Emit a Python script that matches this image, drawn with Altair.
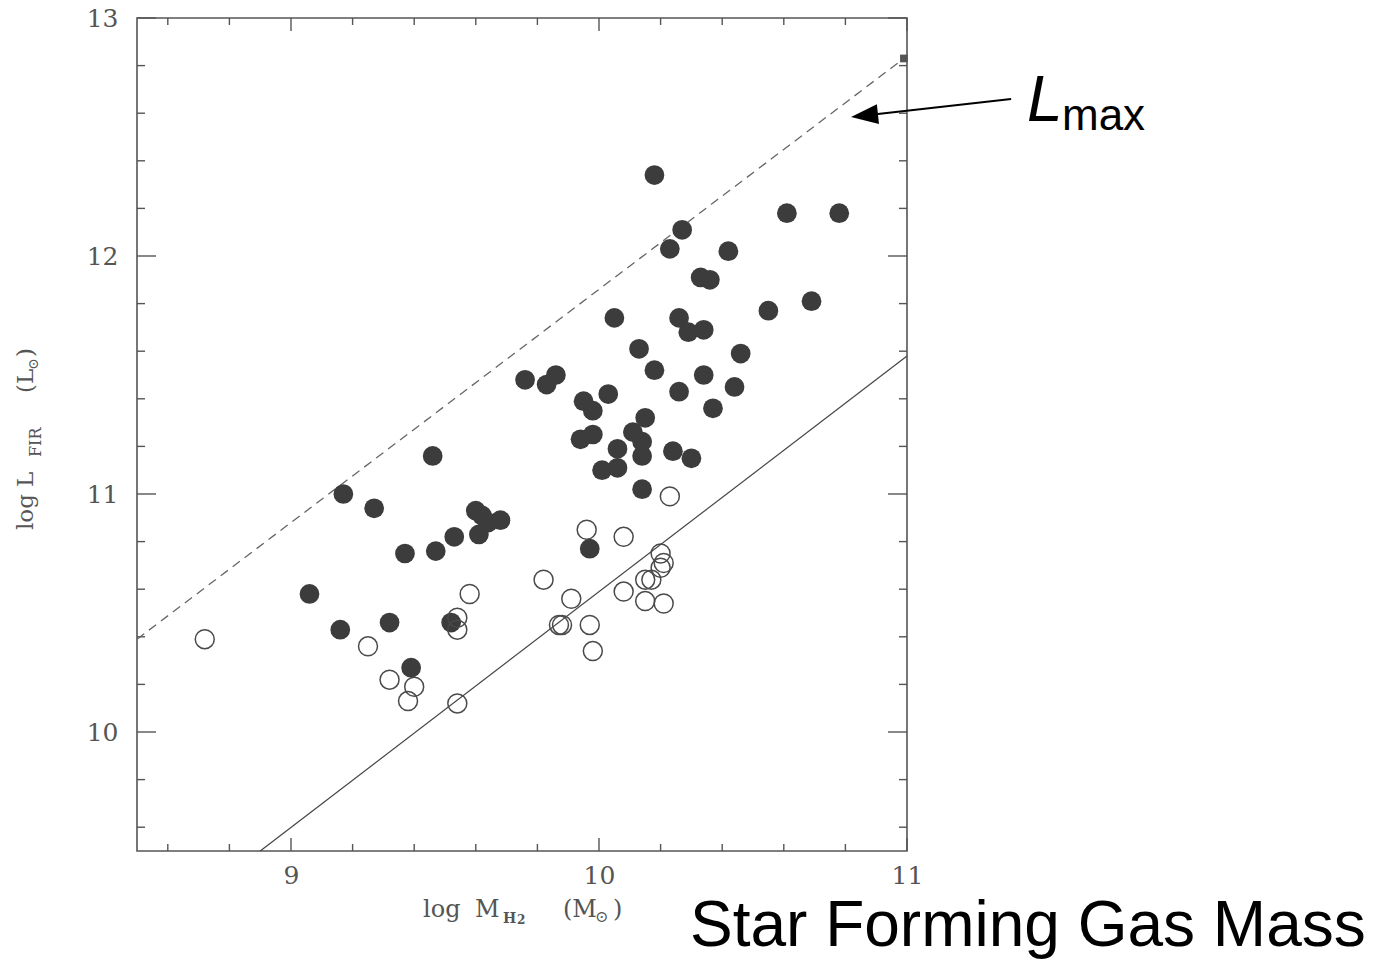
import altair as alt
import pandas as pd

# ---- data: log M_H2 (x) vs log L_FIR (y) ----
filled_x = [10.18, 10.61, 10.78, 10.27, 10.23, 10.42, 10.33, 10.36, 10.69, 10.55,
            10.05, 10.26, 10.29, 10.34, 10.13, 10.46, 10.18, 10.34, 9.76, 9.83,
            9.86, 10.44, 10.26, 9.95, 10.03, 9.98, 10.15, 10.37, 10.11, 9.94,
            9.98, 10.14, 10.06, 10.24, 10.30, 10.14, 10.01, 10.06, 10.14, 9.46,
            9.17, 9.27, 9.60, 9.62, 9.64, 9.68, 9.61, 9.53, 9.47, 9.37,
            9.97, 9.06, 9.16, 9.32, 9.52, 9.39]
filled_y = [12.34, 12.18, 12.18, 12.11, 12.03, 12.02, 11.91, 11.90, 11.81, 11.77,
            11.74, 11.74, 11.68, 11.69, 11.61, 11.59, 11.52, 11.50, 11.48, 11.46,
            11.50, 11.45, 11.43, 11.39, 11.42, 11.35, 11.32, 11.36, 11.26, 11.23,
            11.25, 11.22, 11.19, 11.18, 11.15, 11.16, 11.10, 11.11, 11.02, 11.16,
            11.00, 10.94, 10.93, 10.91, 10.88, 10.89, 10.83, 10.82, 10.76, 10.75,
            10.77, 10.58, 10.43, 10.46, 10.46, 10.27]

open_x = [8.72, 10.23, 9.96, 10.08, 10.20, 10.21, 10.20, 10.17, 10.15, 10.08,
          10.15, 10.21, 9.82, 9.58, 9.91, 9.87, 9.88, 9.97, 9.98, 9.54,
          9.54, 9.25, 9.32, 9.40, 9.38, 9.54]
open_y = [10.39, 10.99, 10.85, 10.82, 10.75, 10.71, 10.69, 10.64, 10.64, 10.59,
          10.55, 10.54, 10.64, 10.58, 10.56, 10.45, 10.45, 10.45, 10.34, 10.48,
          10.43, 10.36, 10.22, 10.19, 10.13, 10.12]

# upper envelope (dashed) and lower relation (solid)
lmax_x = [8.50, 10.99]
lmax_y = [10.39, 12.83]
fit_x = [8.90, 11.00]
fit_y = [9.50, 11.58]

# axis ticks
x_major = [9, 10, 11]
x_minor = [8.6, 8.8, 9.2, 9.4, 9.6, 9.8, 10.2, 10.4, 10.6, 10.8]
y_major = [10, 11, 12, 13]
y_minor = [9.6, 9.8, 10.2, 10.4, 10.6, 10.8, 11.2, 11.4, 11.6, 11.8,
           12.2, 12.4, 12.6, 12.8]

# arrow pointing at the dashed envelope
arrow_x = [11.338, 10.862]
arrow_y = [12.660, 12.590]

W, H = 770, 833
AX = "#555555"
INK = "#3c3c3c"
SERIF = "DejaVu Serif"
SANS = "Liberation Sans"

xs = alt.Scale(domain=[8.5, 11], nice=False, zero=False)
ys = alt.Scale(domain=[9.5, 13], nice=False, zero=False)

x_axis = alt.Axis(values=x_major, format="d", title=None, grid=False, ticks=False,
                  domain=False, labelFont=SERIF, labelFontSize=25, labelColor=AX,
                  labelPadding=12, labelFlush=False, labelOverlap=False)
y_axis = alt.Axis(values=y_major, format="d", title=None, grid=False, ticks=False,
                  domain=False, labelFont=SERIF, labelFontSize=25, labelColor=AX,
                  labelPadding=19, labelFlush=False, labelOverlap=False)


def X(field):
    return alt.X(f"{field}:Q", scale=xs, axis=x_axis)


def Y(field):
    return alt.Y(f"{field}:Q", scale=ys, axis=y_axis)


def xticks(vals, length):
    df = pd.DataFrame({"v": vals})
    bottom = alt.Chart(df).mark_rule(color=AX, strokeWidth=1.4).encode(
        x=X("v"), y=alt.value(H), y2=alt.value(H - length))
    top = alt.Chart(df).mark_rule(color=AX, strokeWidth=1.4).encode(
        x=X("v"), y=alt.value(0), y2=alt.value(length))
    return [bottom, top]


def yticks(vals, length):
    df = pd.DataFrame({"v": vals})
    left = alt.Chart(df).mark_rule(color=AX, strokeWidth=1.4).encode(
        y=Y("v"), x=alt.value(0), x2=alt.value(length))
    right = alt.Chart(df).mark_rule(color=AX, strokeWidth=1.4).encode(
        y=Y("v"), x=alt.value(W), x2=alt.value(W - length))
    return [left, right]


def label(text, px, py, size, font=SERIF, color=AX, angle=0, style="normal",
          weight="normal"):
    df = pd.DataFrame({"t": [text]})
    kw = dict(align="left", baseline="alphabetic", font=font, fontSize=size,
              color=color, fontStyle=style, fontWeight=weight)
    if angle:
        kw["angle"] = angle
    return alt.Chart(df).mark_text(**kw).encode(
        text="t:N", x=alt.value(px), y=alt.value(py))


filled_df = pd.DataFrame({"x": filled_x, "y": filled_y})
open_df = pd.DataFrame({"x": open_x, "y": open_y})
lmax_df = pd.DataFrame({"x": lmax_x, "y": lmax_y})
fit_df = pd.DataFrame({"x": fit_x, "y": fit_y})
arrow_df = pd.DataFrame({"x": arrow_x, "y": arrow_y})

lmax_line = alt.Chart(lmax_df).mark_line(
    color="#666666", strokeWidth=1.3, strokeDash=[9, 6]).encode(x=X("x"), y=Y("y"))
fit_line = alt.Chart(fit_df).mark_line(
    color="#444444", strokeWidth=1.2).encode(x=X("x"), y=Y("y"))

lmax_end = alt.Chart(lmax_df.tail(1)).mark_point(
    shape="square", filled=True, color="#555555", size=60, opacity=1).encode(
    x=X("x"), y=Y("y"))

filled_pts = alt.Chart(filled_df).mark_circle(
    color=INK, size=390, opacity=1).encode(x=X("x"), y=Y("y"))
open_pts = alt.Chart(open_df).mark_point(
    shape="circle", filled=False, color="#4a4a4a", size=360, strokeWidth=1.5,
    opacity=1).encode(x=X("x"), y=Y("y"))

arrow_line = alt.Chart(arrow_df).mark_line(
    color="black", strokeWidth=2, clip=False).encode(x=X("x"), y=Y("y"))
arrow_head = alt.Chart(arrow_df.tail(1)).mark_point(
    shape="M -1 0 L 1 -0.74 L 1 0.74 Z", filled=True, color="black", size=730,
    angle=354, opacity=1, clip=False).encode(x=X("x"), y=Y("y"))

texts = [
    # y-axis title: log L_FIR (L_sun)
    label("log", -104, 512, 23, angle=270),
    label("L", -104, 469, 23, angle=270),
    label("FIR", -96, 439, 16, angle=270),
    label("(L", -104, 375, 23, angle=270),
    label("⊙", -99, 352, 14, angle=270),
    label(")", -104, 339, 23, angle=270),
    # x-axis title: log M_H2 (M_sun)
    label("log", 286, 899, 24),
    label("M", 338, 899, 24),
    label("H", 366, 905, 14, weight="bold"),
    label("2", 380, 906, 12, weight="bold"),
    label("(M", 426, 899, 24),
    label("⊙", 458, 904, 16),
    label(")", 476, 899, 24),
    # annotations
    label("L", 890, 103, 64, font=SANS, color="black", style="italic"),
    label("max", 925, 112, 44, font=SANS, color="black"),
    label("Star Forming Gas Mass", 553, 928, 64, font=SANS, color="black"),
]

layers = (xticks(x_major, 13) + xticks(x_minor, 7)
          + yticks(y_major, 19) + yticks(y_minor, 8)
          + [lmax_line, fit_line, lmax_end, filled_pts, open_pts,
             arrow_line, arrow_head] + texts)

chart = alt.layer(*layers).properties(
    width=W, height=H,
    padding={"left": 137, "top": 18, "right": 473, "bottom": 109},
    autosize=alt.AutoSizeParams(type="none"),
    background="white",
).configure_view(stroke=AX, strokeWidth=1.6)

chart.save("out.html", embed_options={"renderer": "svg", "actions": False})
